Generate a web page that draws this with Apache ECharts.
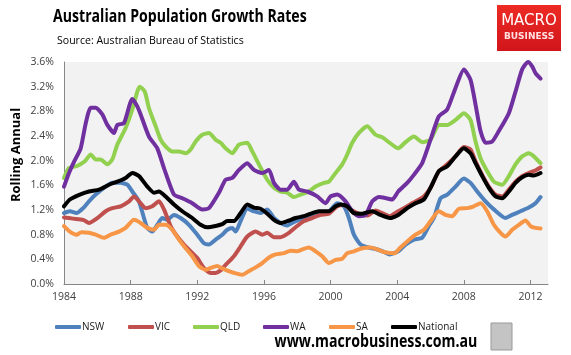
<!DOCTYPE html>
<html>
<head>
<meta charset="utf-8">
<script src="https://cdn.jsdelivr.net/npm/echarts@6/dist/echarts.min.js"></script>
<style>
html,body{margin:0;padding:0;background:#fff;}
#chart{width:571px;height:355px;}
</style>
</head>
<body>
<div id="chart"></div>
<script>
const seriesNames = ['NSW', 'VIC', 'QLD', 'WA', 'SA', 'National'];
const xTickYears = [1984, 1988, 1992, 1996, 2000, 2004, 2008, 2012];
const yTicks = [0, 0.4, 0.8, 1.2, 1.6, 2.0, 2.4, 2.8, 3.2, 3.6];

const NSW = [[1984,1.15],[1984.35,1.18],[1984.75,1.15],[1985.15,1.23],[1985.5,1.34],[1985.9,1.45],[1986.4,1.56],[1986.9,1.64],[1987.4,1.64],[1987.8,1.61],[1988.1,1.5],[1988.5,1.34],[1988.8,1.07],[1989.0,0.91],[1989.3,0.85],[1989.6,0.96],[1989.9,1.07],[1990.2,1.04],[1990.6,1.12],[1991.0,1.07],[1991.5,0.96],[1992.0,0.8],[1992.4,0.66],[1992.7,0.64],[1993.1,0.72],[1993.5,0.8],[1993.8,0.88],[1994.1,0.91],[1994.3,0.85],[1994.6,1.02],[1995.0,1.22],[1995.4,1.18],[1995.8,1.15],[1996.2,1.21],[1996.6,1.07],[1997.0,0.99],[1997.4,0.95],[1997.9,1.02],[1998.4,1.07],[1998.9,1.12],[1999.4,1.15],[1999.9,1.18],[2000.4,1.31],[2000.8,1.26],[2001.1,1.07],[2001.4,0.8],[2001.8,0.64],[2002.3,0.59],[2002.8,0.56],[2003.2,0.52],[2003.55,0.48],[2004.06,0.53],[2004.5,0.64],[2005.0,0.72],[2005.5,0.75],[2005.9,0.94],[2006.2,1.07],[2006.6,1.39],[2007.0,1.45],[2007.5,1.58],[2008.0,1.71],[2008.4,1.64],[2008.8,1.5],[2009.3,1.34],[2009.8,1.21],[2010.5,1.07],[2010.9,1.12],[2011.4,1.18],[2011.9,1.24],[2012.3,1.31],[2012.6,1.41]];
const VIC = [[1984,1.08],[1984.55,1.06],[1985.15,1.04],[1985.5,0.99],[1986.0,1.07],[1986.5,1.18],[1986.9,1.23],[1987.4,1.26],[1987.9,1.34],[1988.2,1.42],[1988.5,1.34],[1988.9,1.23],[1989.3,1.26],[1989.7,1.34],[1990.0,1.21],[1990.4,0.94],[1990.8,0.77],[1991.2,0.64],[1991.6,0.53],[1992.0,0.42],[1992.4,0.26],[1992.8,0.18],[1993.1,0.18],[1993.4,0.22],[1993.7,0.31],[1994.2,0.45],[1994.6,0.61],[1995.0,0.77],[1995.5,0.85],[1995.9,0.8],[1996.2,0.83],[1996.6,0.76],[1997.0,0.76],[1997.5,0.83],[1997.9,0.92],[1998.4,1.02],[1998.9,1.07],[1999.4,1.12],[1999.9,1.14],[2000.4,1.26],[2000.8,1.28],[2001.2,1.21],[2001.7,1.14],[2002.2,1.11],[2002.7,1.19],[2003.1,1.15],[2003.55,1.1],[2004.06,1.18],[2004.6,1.26],[2005.1,1.34],[2005.6,1.42],[2006.0,1.56],[2006.5,1.83],[2007.0,1.94],[2007.5,2.07],[2008.0,2.22],[2008.4,2.18],[2008.7,1.99],[2009.1,1.77],[2009.5,1.58],[2009.9,1.45],[2010.3,1.42],[2010.7,1.53],[2011.1,1.66],[2011.5,1.75],[2011.9,1.8],[2012.2,1.83],[2012.6,1.89]];
const QLD = [[1984,1.72],[1984.3,1.88],[1984.75,1.91],[1985.25,1.99],[1985.6,2.1],[1985.9,2.02],[1986.2,2.02],[1986.6,1.94],[1986.9,2.02],[1987.2,2.26],[1987.7,2.53],[1988.1,2.83],[1988.4,3.12],[1988.55,3.2],[1988.85,3.12],[1989.1,2.85],[1989.5,2.56],[1989.8,2.34],[1990.1,2.23],[1990.5,2.15],[1990.9,2.15],[1991.3,2.12],[1991.6,2.18],[1991.9,2.31],[1992.3,2.42],[1992.7,2.45],[1993.1,2.34],[1993.4,2.29],[1993.7,2.2],[1994.1,2.12],[1994.5,2.26],[1995.0,2.29],[1995.3,2.15],[1995.7,1.94],[1996.2,1.69],[1996.6,1.56],[1997.0,1.5],[1997.4,1.48],[1997.8,1.41],[1998.2,1.45],[1998.7,1.5],[1999.1,1.58],[1999.6,1.64],[1999.9,1.66],[2000.3,1.8],[2000.7,1.94],[2001.0,2.1],[2001.3,2.29],[2001.7,2.45],[2002.2,2.56],[2002.7,2.42],[2003.1,2.38],[2003.45,2.31],[2004.06,2.2],[2004.5,2.3],[2005.0,2.39],[2005.5,2.3],[2006.0,2.34],[2006.5,2.58],[2007.0,2.58],[2007.5,2.66],[2008.0,2.77],[2008.4,2.66],[2008.7,2.31],[2009.0,2.04],[2009.4,1.83],[2009.8,1.66],[2010.3,1.61],[2010.7,1.75],[2011.1,1.94],[2011.5,2.07],[2011.9,2.12],[2012.2,2.07],[2012.6,1.96]];
const WA = [[1984,1.58],[1984.3,1.8],[1984.6,1.98],[1985.0,2.2],[1985.3,2.6],[1985.6,2.86],[1985.9,2.86],[1986.3,2.75],[1986.6,2.58],[1987.0,2.45],[1987.2,2.58],[1987.6,2.61],[1988.1,3.0],[1988.4,2.88],[1988.6,2.75],[1989.1,2.39],[1989.6,2.2],[1990.0,1.88],[1990.6,1.45],[1991.1,1.39],[1991.7,1.31],[1992.3,1.21],[1992.7,1.23],[1993.3,1.48],[1993.7,1.69],[1994.1,1.72],[1994.5,1.85],[1995.0,1.96],[1995.4,1.85],[1995.9,1.8],[1996.3,1.85],[1996.6,1.64],[1997.0,1.53],[1997.4,1.53],[1997.8,1.66],[1998.1,1.53],[1998.6,1.5],[1999.2,1.42],[1999.7,1.31],[2000.0,1.42],[2000.4,1.45],[2000.9,1.34],[2001.3,1.18],[2001.7,1.1],[2002.1,1.12],[2002.5,1.34],[2002.9,1.41],[2003.35,1.39],[2003.7,1.37],[2004.06,1.5],[2004.6,1.64],[2005.0,1.77],[2005.5,1.96],[2006.0,2.34],[2006.5,2.72],[2007.0,2.83],[2007.5,3.18],[2008.0,3.48],[2008.4,3.31],[2008.7,2.91],[2009.0,2.48],[2009.3,2.29],[2009.7,2.31],[2010.1,2.48],[2010.7,2.77],[2011.1,3.12],[2011.5,3.48],[2011.85,3.6],[2012.1,3.53],[2012.3,3.42],[2012.6,3.33]];
const SA = [[1984,0.94],[1984.35,0.85],[1984.75,0.8],[1985.05,0.84],[1985.5,0.83],[1985.9,0.8],[1986.4,0.75],[1986.8,0.8],[1987.3,0.85],[1987.7,0.91],[1988.2,1.04],[1988.6,0.99],[1989.0,0.91],[1989.4,0.88],[1989.7,0.96],[1990.1,0.96],[1990.5,0.88],[1990.9,0.72],[1991.3,0.58],[1991.7,0.45],[1992.1,0.29],[1992.5,0.23],[1992.8,0.26],[1993.2,0.29],[1993.45,0.26],[1993.7,0.23],[1994.2,0.18],[1994.7,0.15],[1995.1,0.21],[1995.5,0.27],[1995.9,0.34],[1996.3,0.43],[1996.7,0.48],[1997.2,0.5],[1997.6,0.54],[1998.0,0.53],[1998.3,0.56],[1998.7,0.59],[1999.1,0.53],[1999.5,0.45],[1999.9,0.34],[2000.3,0.39],[2000.7,0.41],[2001.0,0.5],[2001.4,0.53],[2001.9,0.58],[2002.4,0.59],[2002.8,0.56],[2003.2,0.52],[2003.85,0.5],[2004.15,0.58],[2004.6,0.69],[2005.1,0.8],[2005.6,0.88],[2006.0,1.02],[2006.5,1.18],[2006.9,1.12],[2007.3,1.1],[2007.7,1.22],[2008.2,1.23],[2008.6,1.26],[2009.0,1.31],[2009.4,1.18],[2009.8,0.96],[2010.2,0.83],[2010.5,0.77],[2010.9,0.88],[2011.3,0.96],[2011.7,1.03],[2012.0,0.94],[2012.3,0.91],[2012.6,0.9]];
const NATIONAL = [[1984,1.26],[1984.35,1.37],[1984.95,1.45],[1985.5,1.5],[1986.1,1.53],[1986.7,1.61],[1987.2,1.66],[1987.7,1.72],[1988.1,1.8],[1988.5,1.75],[1989.0,1.58],[1989.4,1.48],[1989.7,1.5],[1990.1,1.42],[1990.6,1.29],[1991.1,1.18],[1991.7,1.07],[1992.2,0.96],[1992.6,0.92],[1993.1,0.94],[1993.5,0.97],[1993.8,1.02],[1994.2,1.02],[1994.6,1.15],[1995.0,1.29],[1995.4,1.24],[1995.8,1.22],[1996.2,1.14],[1996.6,1.04],[1997.0,0.99],[1997.4,1.02],[1997.9,1.07],[1998.4,1.1],[1998.9,1.15],[1999.3,1.18],[1999.9,1.18],[2000.3,1.26],[2000.6,1.29],[2001.0,1.26],[2001.4,1.15],[2001.9,1.14],[2002.5,1.18],[2003.0,1.12],[2003.55,1.07],[2004.06,1.12],[2004.6,1.23],[2005.1,1.31],[2005.6,1.37],[2006.0,1.56],[2006.5,1.83],[2007.0,1.91],[2007.5,2.07],[2008.0,2.2],[2008.4,2.12],[2008.7,1.96],[2009.1,1.75],[2009.5,1.56],[2009.9,1.42],[2010.3,1.39],[2010.7,1.5],[2011.1,1.64],[2011.5,1.73],[2011.9,1.77],[2012.2,1.76],[2012.6,1.8]];

const seriesData = [NSW, VIC, QLD, WA, SA, NATIONAL];
const colors = ['#4F81BD', '#C0504D', '#92D050', '#7030A0', '#F79646', '#000000'];
const legendLeft = [50, 123, 188, 258, 324, 386];

const chart = echarts.init(document.getElementById('chart'), null, {renderer: 'canvas'});
const font = 'Open Sans, Noto Sans, sans-serif';

const option = {
  animation: false,
  backgroundColor: '#ffffff',
  grid: {left: 64, right: 23, top: 62, bottom: 71, show: true, backgroundColor: '#F2F2F2', borderWidth: 0},
  xAxis: {
    type: 'value', min: 1984, max: 2013.05, interval: 4,
    axisLine: {lineStyle: {color: '#868686', width: 1}},
    axisTick: {show: true, inside: true, length: 4, lineStyle: {color: '#868686'}},
    axisLabel: {color: '#404040', fontFamily: font, fontSize: 10.5, margin: 8, showMaxLabel: false,
      formatter: v => (xTickYears.indexOf(v) >= 0 ? String(v) : '')},
    splitLine: {show: false}
  },
  yAxis: {
    type: 'value', min: 0, max: 3.6, interval: 0.4,
    axisLine: {show: true, lineStyle: {color: '#868686', width: 1}},
    axisTick: {show: false},
    axisLabel: {color: '#404040', fontFamily: font, fontSize: 10.5, margin: 10,
      formatter: v => v.toFixed(1) + '%'},
    splitLine: {show: false}
  },
  legend: seriesNames.map((n, i) => ({
    data: [n], left: legendLeft[i], top: 317, itemWidth: 26, itemHeight: 4, itemGap: 2,
    icon: 'roundRect',
    textStyle: {fontFamily: font, fontSize: 10, color: '#1a1a1a', padding: [0, 0, 0, -4]}
  })),
  series: seriesNames.map((n, i) => ({
    name: n, type: 'line', data: seriesData[i], showSymbol: false, smooth: 0.2,
    lineStyle: {color: colors[i], width: 4, cap: 'round', join: 'round'},
    itemStyle: {color: colors[i]}
  })),
  graphic: [
    {type: 'text', x: 53, y: 9, scaleX: 0.83, originX: 0,
      style: {text: 'Australian Population Growth Rates', fontFamily: font, fontWeight: 'bold', fontSize: 17, fill: '#000'}},
    {type: 'text', x: 57, y: 35, scaleX: 0.96, originX: 0,
      style: {text: 'Source: Australian Bureau of Statistics', fontFamily: font, fontSize: 11, fill: '#000'}},
    {type: 'text', x: 16, y: 155, rotation: Math.PI / 2,
      style: {text: 'Rolling Annual', fontFamily: font, fontWeight: 'bold', fontSize: 13, fill: '#000', align: 'center', verticalAlign: 'middle'}},
    {type: 'rect', shape: {x: 497, y: 5, width: 64, height: 46},
      style: {fill: new echarts.graphic.LinearGradient(0, 0, 0, 1, [{offset: 0, color: '#ee2b24'}, {offset: 1, color: '#d0151b'}])}},
    {type: 'text', x: 529, y: 21, style: {text: 'MACRO', fontFamily: 'DejaVu Sans, sans-serif', fontSize: 15, fill: '#fff', align: 'center', verticalAlign: 'middle'}},
    {type: 'text', x: 529, y: 37, style: {text: 'BUSINESS', fontFamily: 'DejaVu Sans, sans-serif', fontSize: 9, fontWeight: 'bold', fill: '#ffe0e0', align: 'center', verticalAlign: 'middle'}},
    {type: 'text', x: 376, y: 342, scaleX: 0.81, originX: 0,
      style: {text: 'www.macrobusiness.com.au', fontFamily: font, fontWeight: 'bold', fontSize: 17.5, fill: '#000', align: 'center', verticalAlign: 'middle'}},
    {type: 'rect', shape: {x: 491, y: 323, width: 21, height: 27},
      style: {fill: '#c4c4c4', stroke: '#999', lineWidth: 1}}
  ]
};
chart.setOption(option);
</script>
</body>
</html>
